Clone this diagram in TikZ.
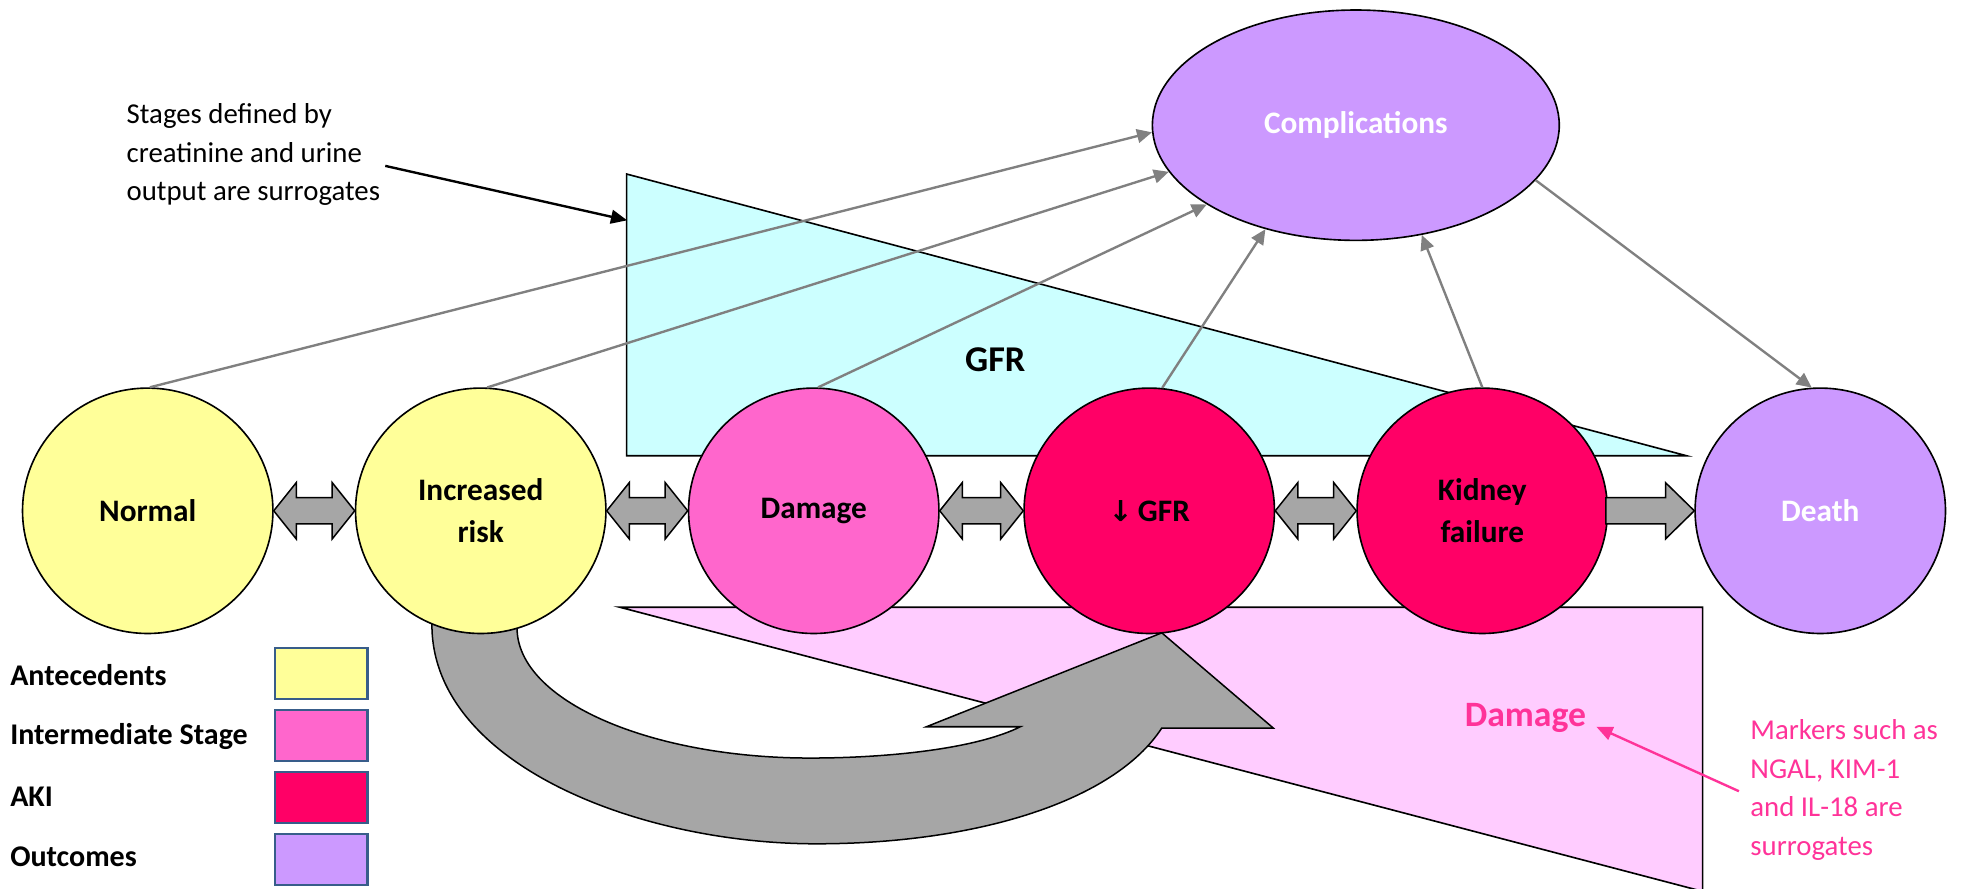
\documentclass[tikz,border=0pt]{standalone}
\usepackage{fontspec}
\setmainfont{Carlito}
\newfontfamily\djv{DejaVu Sans}
\usetikzlibrary{arrows.meta,calc,shapes.geometric}
\definecolor{cyellow}{HTML}{FFFF99}
\definecolor{cpink}{HTML}{FF66CC}
\definecolor{cred}{HTML}{FF0066}
\definecolor{cpurple}{HTML}{CC99FF}
\definecolor{ccyan}{HTML}{CCFFFF}
\definecolor{clpink}{HTML}{FFCCFF}
\definecolor{cblock}{HTML}{A6A6A6}
\definecolor{cconn}{HTML}{808080}
\definecolor{cpinktext}{HTML}{FF3399}
\definecolor{cborder}{HTML}{385D8A}
\begin{document}
\begin{tikzpicture}[x=1pt,y=-1pt,
  stage/.style={ellipse,draw=black,line width=1.3pt,minimum width=200pt,minimum height=196pt,inner sep=0pt,align=center,font=\fontsize{25}{34}\selectfont\bfseries},
  conn/.style={draw=cconn,line width=1.9pt,-{Triangle[length=12pt,width=11pt]}},
  blk/.style={draw=black,fill=cblock,line width=1.2pt,line join=miter},
  tri/.style={draw=black,line width=1.3pt,line join=miter},
  legtext/.style={anchor=west,inner sep=0pt,font=\fontsize{24}{28}\selectfont\bfseries},
  legbox/.style={draw=cborder,line width=2pt,minimum width=74pt,minimum height=41pt,inner sep=0pt},
  note/.style={anchor=west,inner sep=0pt,align=left,font=\fontsize{23}{31}\selectfont}
]
\useasboundingbox (0,0) rectangle (1568,710);
% background triangles
\coordinate (cA) at (500.5,139);
\coordinate (cB) at (500.5,364);
\coordinate (cC) at (1347,364);
\filldraw[tri,fill=ccyan] (cA) -- (cB) -- (cC) -- cycle;
\coordinate (pA) at (495,485);
\coordinate (pB) at (1360,485);
\coordinate (pC) at (1360,712);
\filldraw[tri,fill=clpink] (pA) -- (pB) -- (pC) -- cycle;
\coordinate (cyanmark) at (501,176);
% curved block arrow
\draw[blk] (345,480) -- (345,499) .. controls (345,610) and (510,674) .. (652,674)
  .. controls (780,674) and (890,640) .. (928,581.5)
  -- (1017,581.5) -- (928,505.5) -- (740,580.5) -- (815,580.5)
  .. controls (780,598) and (710,605.5) .. (647,605.5)
  .. controls (520,605.5) and (413,560) .. (413,501.5) -- (413,480) -- cycle;
% stage nodes
\node[stage,fill=cyellow] (normal) at (118,408) {Normal};
\node[stage,fill=cyellow] (risk) at (384,408) {Increased\\risk};
\node[stage,fill=cpink] (damage) at (650,408) {Damage};
\node[stage,fill=cred] (gfr) at (918,408) {{\djv\bfseries\fontsize{23}{34}\selectfont ↓}\,GFR};
\node[stage,fill=cred] (kidney) at (1184,408) {Kidney\\failure};
\node[stage,fill=cpurple,text=white] (death) at (1454,408) {Death};
\node[stage,fill=cpurple,text=white,minimum width=325pt,minimum height=184pt] (comp) at (1083,100) {\raisebox{4pt}{Complications}};
% double block arrows
\foreach \a/\b in {normal/risk,risk/damage,damage/gfr,gfr/kidney}{
  \draw[blk] let \p1=(\a.east), \p2=(\b.west) in
    (\x1,\y1) -- (\x1+18pt,\y1+22.5pt) -- (\x1+18pt,\y1+10.5pt) -- (\x2-18pt,\y1+10.5pt)
    -- (\x2-18pt,\y1+22.5pt) -- (\x2,\y1) -- (\x2-18pt,\y1-22.5pt) -- (\x2-18pt,\y1-10.5pt)
    -- (\x1+18pt,\y1-10.5pt) -- (\x1+18pt,\y1-22.5pt) -- cycle;
}
\draw[blk] let \p1=(kidney.east), \p2=(death.west) in
    (\x1-2pt,\y1+10.5pt) -- (\x2-23pt,\y1+10.5pt)
    -- (\x2-23pt,\y1+22.5pt) -- (\x2,\y1) -- (\x2-23pt,\y1-22.5pt) -- (\x2-23pt,\y1-10.5pt)
    -- (\x1-2pt,\y1-10.5pt) -- cycle;
% connectors to complications
\draw[conn] (normal.89) -- (comp.182);
\draw[conn] (risk.87) -- (comp.194);
\draw[conn] (damage.88) -- (comp.208.6);
\draw[conn] (gfr.84) -- (comp.229.3);
\draw[conn] (kidney.90) -- (comp.301.6);
\draw[conn] (comp.343.8) -- (death.94);
% labels
\node[inner sep=0pt,font=\fontsize{29}{34}\selectfont\bfseries] (gfrlabel) at (795,287.5) {GFR};
\node[inner sep=0pt,text=cpinktext,font=\fontsize{28.5}{34}\selectfont\bfseries] (dmg) at (1218.5,573.5) {Damage};
\node[note] (stages) at (101,123.5) {Stages defined by\\creatinine and urine\\output are surrogates};
\node[note,text=cpinktext] (notes) at (1398,631) {Markers such as\\NGAL, KIM-1\\and IL-18 are\\surrogates};
\draw[line width=1.9pt,-{Triangle[length=13pt,width=11pt]}] ($(stages.east)+(4,9)$) -- (cyanmark);
\draw[draw=cpinktext,line width=1.9pt,-{Triangle[length=13pt,width=11pt]}] ($(notes.west)+(-9,1)$) -- ($(dmg.east)+(8,7)$);
% legend
\node[legtext] (l1) at (8,539) {Antecedents};
\node[legtext] (l2) at (8,588.5) {Intermediate Stage};
\node[legtext] (l3) at (8,636.5) {AKI};
\node[legtext] (l4) at (8,684.5) {Outcomes};
\node[legbox,fill=cyellow] (b1) at (256.5,538) {};
\node[legbox,fill=cpink] (b2) at (256.5,587.5) {};
\node[legbox,fill=cred] (b3) at (256.5,637) {};
\node[legbox,fill=cpurple] (b4) at (256.5,686.5) {};
\end{tikzpicture}
\end{document}
